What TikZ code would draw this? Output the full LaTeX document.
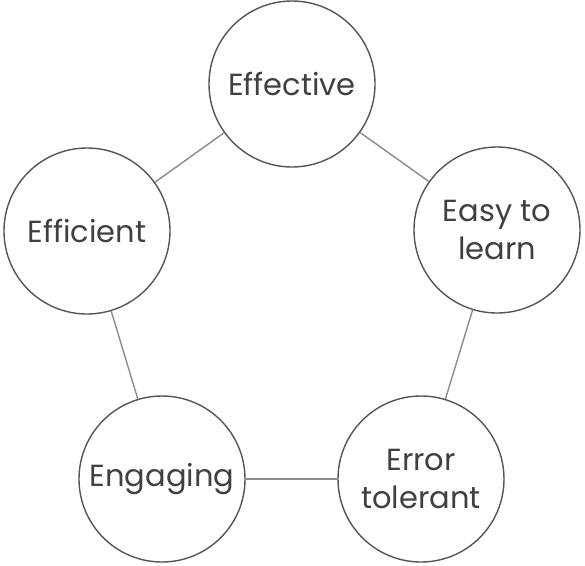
\documentclass[tikz,border=0pt]{standalone}
\usepackage{fontspec}
\setmainfont{Poppins}
\definecolor{ringc}{HTML}{555555}
\definecolor{linkc}{HTML}{8C8C8C}
\definecolor{textc}{HTML}{404040}
\begin{document}
\begin{tikzpicture}[x=1pt,y=-1pt,
  ring/.style={circle,draw=ringc,line width=1.4pt,fill=white,minimum size=166pt,inner sep=0pt,
    font=\fontsize{30.5}{38}\selectfont,text=textc,align=center},
  link/.style={draw=linkc,line width=1.4pt}]
\useasboundingbox (0,0) rectangle (585,565);
\node[ring] (eff) at (292,84) {Effective};
\node[ring] (easy) at (497,230) {Easy to\\learn};
\node[ring] (err) at (421,479) {Error\\tolerant};
\node[ring] (eng) at (162,479) {Engaging};
\node[ring] (effi) at (87,231) {Efficient};
\draw[link] (eff) -- (easy);
\draw[link] (easy) -- (err);
\draw[link] (err) -- (eng);
\draw[link] (eng) -- (effi);
\draw[link] (effi) -- (eff);
\end{tikzpicture}
\end{document}
